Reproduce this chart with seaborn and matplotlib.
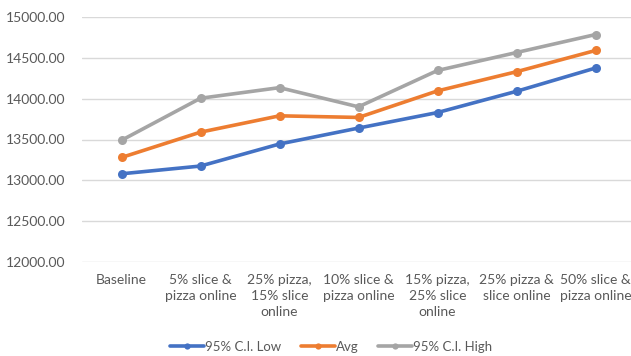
import matplotlib
matplotlib.use("Agg")
import matplotlib.pyplot as plt
from matplotlib.lines import Line2D
import pandas as pd
import seaborn as sns

categories = [
    "Baseline",
    "5% slice &\npizza online",
    "25% pizza,\n15% slice\nonline",
    "10% slice &\npizza online",
    "15% pizza,\n25% slice\nonline",
    "25% pizza &\nslice online",
    "50% slice &\npizza online",
]
ci_low = [13080, 13175, 13445, 13640, 13830, 14090, 14375]
avg = [13280, 13590, 13790, 13770, 14095, 14330, 14590]
ci_high = [13490, 14005, 14135, 13900, 14345, 14565, 14785]

series_names = ["95% C.I. Low", "Avg", "95% C.I. High"]
palette = {"95% C.I. Low": "#4472C4", "Avg": "#ED7D31", "95% C.I. High": "#A5A5A5"}

df = pd.concat(
    [
        pd.DataFrame({"scenario": categories, "value": vals, "series": name})
        for name, vals in zip(series_names, [ci_low, avg, ci_high])
    ],
    ignore_index=True,
)

sns.set_theme(style="white")
plt.rcParams["font.family"] = ["Lato", "DejaVu Sans"]
text_color = "#595959"

fig = plt.figure(figsize=(6.31, 3.56), dpi=100)
ax = fig.add_axes([82 / 631, 1 - 262 / 356, 553 / 631, 245 / 356])

sns.lineplot(
    data=df, x="scenario", y="value", hue="series", hue_order=series_names,
    palette=palette, marker="o", markersize=6.5, markeredgewidth=0,
    linewidth=2.6, sort=False, legend=False, ax=ax,
)

ax.set_xlim(-0.5, len(categories) - 0.5)
ax.set_ylim(12000, 15000)
ax.set_yticks([12000, 12500, 13000, 13500, 14000, 14500, 15000])
ax.set_yticklabels([f"{v:.2f}" for v in ax.get_yticks()])
ax.grid(axis="y", color="#D9D9D9", linewidth=1)
ax.set_axisbelow(True)
for s in ax.spines.values():
    s.set_visible(False)
ax.set_xlabel("")
ax.set_ylabel("")
ax.tick_params(axis="both", length=0, labelsize=10, colors=text_color)
ax.tick_params(axis="y", pad=12)
ax.tick_params(axis="x", pad=9)
for lbl in ax.get_xticklabels():
    lbl.set_linespacing(1.4)
    lbl.set_horizontalalignment("center")

handles = [
    Line2D([], [], color=palette[n], linewidth=2.6, marker="o",
           markersize=4.5, markeredgewidth=0)
    for n in series_names
]
fig.legend(
    handles, series_names, loc="center", bbox_to_anchor=(331 / 631, 1 - 347 / 356),
    ncol=3, frameon=False, fontsize=9.5, labelcolor=text_color,
    handlelength=2.6, handletextpad=0.05, columnspacing=1.5,
)

fig.savefig("out.png", dpi=100)
